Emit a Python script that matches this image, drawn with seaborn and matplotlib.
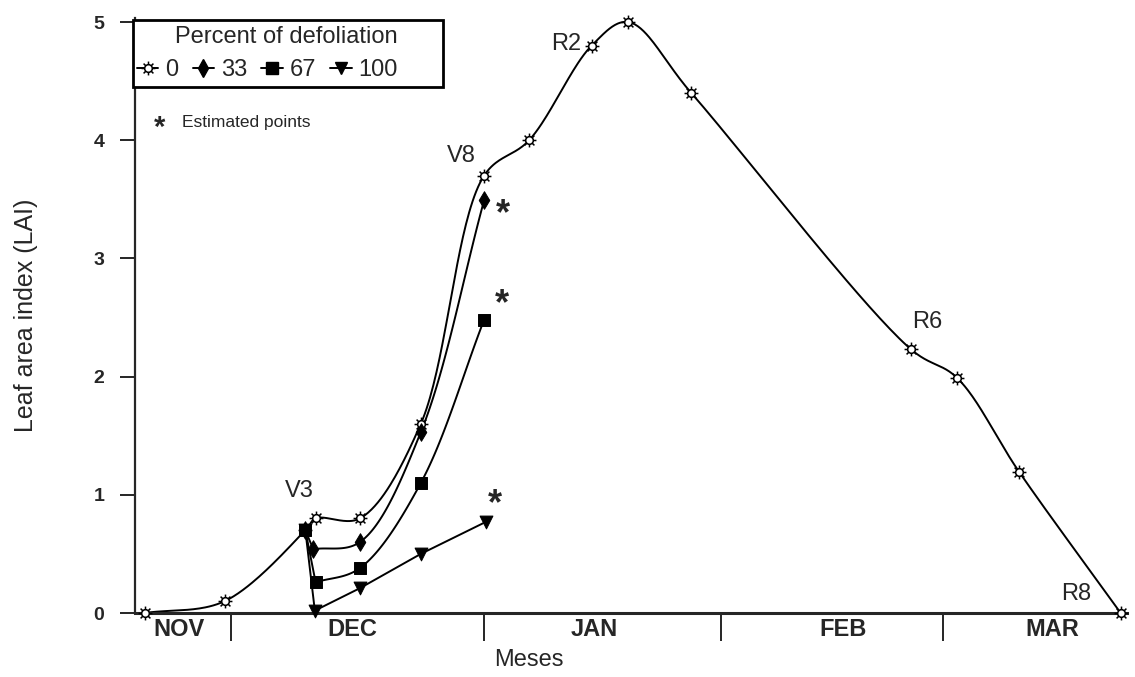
import numpy as np
import matplotlib
matplotlib.use('Agg')
import matplotlib.pyplot as plt
from matplotlib.path import Path
from matplotlib.lines import Line2D
from matplotlib.patches import Rectangle
import seaborn as sns

# x = days counted from 1 November, y = leaf area index
days_0 = [19.1, 29.2, 39.4, 40.7, 46.3, 54.0, 62.0, 67.7, 75.6, 80.2, 88.2, 116.0, 121.8, 129.7, 142.5]
lai_0 = [0.0, 0.1, 0.7, 0.8, 0.8, 1.6, 3.7, 4.0, 4.8, 5.0, 4.4, 2.23, 1.99, 1.19, 0.0]
days_33 = [39.4, 40.4, 46.3, 54.0, 62.0]
lai_33 = [0.7, 0.54, 0.60, 1.53, 3.49]
days_67 = [39.4, 40.7, 46.3, 54.0, 62.0]
lai_67 = [0.7, 0.26, 0.38, 1.10, 2.48]
days_100 = [39.4, 40.6, 46.3, 54.0, 62.2]
lai_100 = [0.7, 0.02, 0.21, 0.50, 0.77]

month_edges = [30, 62, 92, 120]
month_names = ['NOV', 'DEC', 'JAN', 'FEB', 'MAR']
month_centres = [23.4, 45.4, 76.0, 107.4, 133.9]

stage_names = ['V3', 'V8', 'R2', 'R6', 'R8']
stage_idx = [3, 6, 8, 11, 14]
stage_offsets = [(-16, 27), (-23, 20), (-25, 2), (16, 27), (-44, 19)]


def smooth(ax, x, y, n=40, alpha=0.5):
    # centripetal catmull-rom, worked out in screen space
    pts = ax.transData.transform(np.column_stack([x, y]))
    p = np.vstack([2 * pts[0] - pts[1], pts, 2 * pts[-1] - pts[-2]])
    out = []
    for i in range(1, len(p) - 2):
        P0, P1, P2, P3 = p[i - 1], p[i], p[i + 1], p[i + 2]
        t0 = 0.0
        t1 = t0 + np.linalg.norm(P1 - P0) ** alpha
        t2 = t1 + np.linalg.norm(P2 - P1) ** alpha
        t3 = t2 + np.linalg.norm(P3 - P2) ** alpha
        t = np.linspace(t1, t2, n, endpoint=False)[:, None]
        A1 = (t1 - t) / (t1 - t0) * P0 + (t - t0) / (t1 - t0) * P1
        A2 = (t2 - t) / (t2 - t1) * P1 + (t - t1) / (t2 - t1) * P2
        A3 = (t3 - t) / (t3 - t2) * P2 + (t - t2) / (t3 - t2) * P3
        B1 = (t2 - t) / (t2 - t0) * A1 + (t - t0) / (t2 - t0) * A2
        B2 = (t3 - t) / (t3 - t1) * A2 + (t - t1) / (t3 - t1) * A3
        out.append((t2 - t) / (t2 - t1) * B1 + (t - t1) / (t2 - t1) * B2)
    out.append(pts[-1:])
    c = ax.transData.inverted().transform(np.vstack(out))
    return c[:, 0], c[:, 1]


# little sun marker for the undefoliated series
ang = np.linspace(0, 2 * np.pi, 25)
verts = [(0.55 * np.cos(a), 0.55 * np.sin(a)) for a in ang]
codes = [Path.MOVETO] + [Path.LINETO] * (len(ang) - 2) + [Path.CLOSEPOLY]
for a in np.arange(8) * np.pi / 4:
    verts += [(0.55 * np.cos(a), 0.55 * np.sin(a)), (np.cos(a), np.sin(a))]
    codes += [Path.MOVETO, Path.LINETO]
sun = Path(verts, codes)

sns.set_style('ticks')
plt.rcParams['font.family'] = ['Liberation Sans', 'DejaVu Sans']

fig = plt.figure(figsize=(11.35, 6.77), dpi=100)
ax = fig.add_axes([135 / 1135, 64 / 677, 992 / 1135, 595 / 677])
ax.set_xlim(17.86, 143.3)
ax.set_ylim(0, 5.034)

lw = 1.4

# 0 %
sx, sy = smooth(ax, days_0, lai_0)
sns.lineplot(x=sx, y=sy, sort=False, estimator=None, color='black', lw=lw, ax=ax)
sns.scatterplot(x=days_0, y=lai_0, marker=sun, s=100, color='white', edgecolor='black',
                linewidth=1.1, zorder=5, clip_on=False, ax=ax)

# 33 %
sx, sy = smooth(ax, days_33[1:], lai_33[1:])
sns.lineplot(x=days_33[:2], y=lai_33[:2], sort=False, estimator=None, color='black', lw=lw, ax=ax)
sns.lineplot(x=sx, y=sy, sort=False, estimator=None, color='black', lw=lw, ax=ax)
sns.scatterplot(x=days_33, y=lai_33, marker='d', s=80, color='black', edgecolor='black',
                zorder=6, ax=ax)

# 100 %
sns.lineplot(x=days_100, y=lai_100, sort=False, estimator=None, color='black', lw=lw, ax=ax)
sns.scatterplot(x=days_100, y=lai_100, marker='v', s=85, color='black', edgecolor='black',
                zorder=6, clip_on=False, ax=ax)

# 67 %
sx, sy = smooth(ax, days_67[1:], lai_67[1:])
sns.lineplot(x=days_67[:2], y=lai_67[:2], sort=False, estimator=None, color='black', lw=lw, ax=ax)
sns.lineplot(x=sx, y=sy, sort=False, estimator=None, color='black', lw=lw, ax=ax)
sns.scatterplot(x=days_67, y=lai_67, marker='s', s=75, color='black', edgecolor='black',
                zorder=7, ax=ax)

# growth stages
for name, i, off in zip(stage_names, stage_idx, stage_offsets):
    ax.annotate(name, xy=(days_0[i], lai_0[i]), xytext=off, textcoords='offset pixels',
                ha='center', va='center', fontsize=17)

# estimated points
for dx, dy, ex, ey in [(days_33[-1], lai_33[-1], 19, -14),
                       (days_67[-1], lai_67[-1], 18, 15),
                       (days_100[-1], lai_100[-1], 9, 17)]:
    ax.annotate('*', xy=(dx, dy), xytext=(ex, ey), textcoords='offset pixels',
                ha='center', va='center', fontsize=26, fontweight='bold')

ax.text(0.025, 0.815, '*', transform=ax.transAxes, ha='center', va='center',
        fontsize=21, fontweight='bold')
ax.text(0.047, 0.824, 'Estimated points', transform=ax.transAxes, ha='left', va='center',
        fontsize=12.5)

ax.set_yticks(range(6))
ax.tick_params(axis='y', length=11, width=1.2, pad=11, labelsize=14, color='black')
for t in ax.get_yticklabels():
    t.set_fontweight('bold')
ax.set_xticks(month_edges)
ax.set_xticklabels([])
ax.tick_params(axis='x', which='major', length=20, width=1.2, color='black')
ax.set_xticks(month_centres, minor=True)
ax.set_xticklabels(month_names, minor=True, fontweight='bold')
ax.tick_params(axis='x', which='minor', length=0, pad=3.5, labelsize=17)

sns.despine(ax=ax)
ax.spines['left'].set_linewidth(1.6)
ax.spines['bottom'].set_linewidth(2.2)

ax.set_ylabel('Leaf area index (LAI)', fontsize=18)
ax.yaxis.set_label_coords(-0.098, 0.5)
ax.set_xlabel('Meses', fontsize=17)
ax.xaxis.set_label_coords(0.397, -0.0605)

# legend box: frame, centred title, one row of entries
ax.add_patch(Rectangle((-0.002, 0.884), 0.3125, 0.1126, transform=ax.transAxes,
                       facecolor='white', edgecolor='black', lw=2, zorder=8, clip_on=False))
ax.text(0.153, 0.968, 'Percent of defoliation', transform=ax.transAxes, ha='center',
        va='center', fontsize=17, zorder=9)
handles = [
    Line2D([0], [0], color='black', lw=lw, marker=sun, ms=10, mfc='white', mec='black', mew=1.1),
    Line2D([0], [0], color='black', lw=lw, marker='d', ms=9, mfc='black', mec='black'),
    Line2D([0], [0], color='black', lw=lw, marker='s', ms=8.5, mfc='black', mec='black'),
    Line2D([0], [0], color='black', lw=lw, marker='v', ms=9, mfc='black', mec='black'),
]
leg = ax.legend(handles, ['0', '33', '67', '100'], ncol=4, loc='center left',
                bbox_to_anchor=(0.002, 0.9126), borderaxespad=0, borderpad=0,
                frameon=False, fontsize=17, handlelength=0.9, handletextpad=0.3,
                columnspacing=0.6)
leg.set_zorder(9)

fig.savefig('out.png', dpi=100)
